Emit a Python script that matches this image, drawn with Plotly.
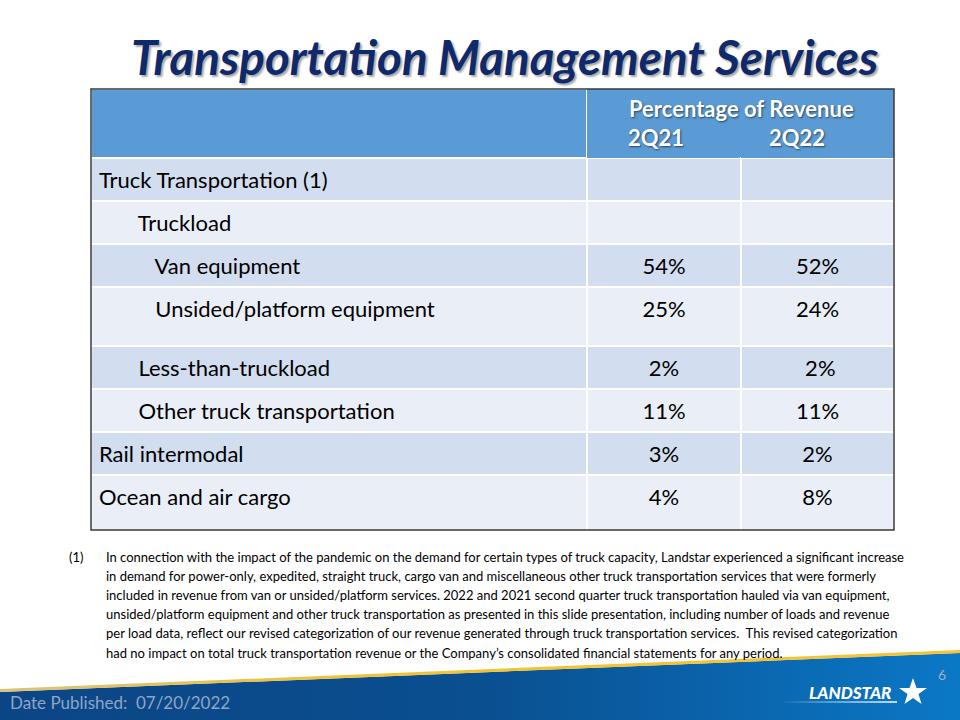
import base64
import plotly.graph_objects as go

# ---------------- data ----------------
title_text = "Transportation Management Services"
header_group = "Percentage of Revenue"
periods = ["2Q21", "2Q22"]
row_labels = [
    "Truck Transportation (1)",
    "Truckload",
    "Van equipment",
    "Unsided/platform equipment",
    "Less-than-truckload",
    "Other truck transportation",
    "Rail intermodal",
    "Ocean and air cargo",
]
row_levels = [0, 1, 2, 2, 1, 1, 0, 0]
pct_2q21 = ["", "", "54%", "25%", "2%", "11%", "3%", "4%"]
pct_2q22 = ["", "", "52%", "24%", " 2%", "11%", "2%", "8%"]
footnote_marker = "(1)"
footnote_lines = [
    "In connection with the impact of the pandemic on the demand for certain types of truck capacity, Landstar experienced a significant increase",
    "in demand for power-only, expedited, straight truck, cargo van and miscellaneous other truck transportation services that were formerly",
    "included in revenue from van or unsided/platform services. 2022 and 2021 second quarter truck transportation hauled via van equipment,",
    "unsided/platform equipment and other truck transportation as presented in this slide presentation, including number of loads and revenue",
    "per load data, reflect our revised categorization of our revenue generated through truck transportation services.  This revised categorization",
    "had no impact on total truck transportation revenue or the Company\u2019s consolidated financial statements for any period.",
]
date_text = "Date Published:  07/20/2022"
page_number = "6"
logo_text = "LANDSTAR"

# ---------------- styles ----------------
W, H = 960, 720
FONT = "Lato"
HEADER_BLUE = "#5B9BD5"
BAND_DARK = "#D2DEEF"
BAND_LIGHT = "#EAEFF7"
TITLE_COLOR = "#0E2A6C"

tbl_left, tbl_right = 91, 894
tbl_top, tbl_bottom = 89, 530
col_px = [496, 154, 153]
header_h = 69
row_h = 43
indent = {0: "", 1: "\u00a0" * 7, 2: "\u00a0" * 10}
# extra space below the text for the taller rows (layout only)
row_tail = {
    "Unsided/platform equipment": "<br><sup><span style='font-size:8px'>\u00a0</span></sup>",
    "Ocean and air cargo": "<br><sup><span style='font-size:1px'>\u00a0</span></sup>",
}


def px(x):
    return x / W


def py(y):
    return 1 - y / H


def cell(t):
    return (t + "<br>") if t else t


labels = [indent[lv] + t + row_tail.get(t, "<br>") for t, lv in zip(row_labels, row_levels)]
col_a = [cell(v) for v in pct_2q21]
col_b = [cell(v) for v in pct_2q22]

fills = [BAND_DARK if i % 2 == 0 else BAND_LIGHT for i in range(len(row_labels))]

fig = go.Figure()
fig.add_trace(
    go.Table(
        domain=dict(x=[px(tbl_left), px(tbl_right)], y=[py(tbl_bottom), py(tbl_top)]),
        columnwidth=col_px,
        header=dict(
            values=[" ", " ", " "],
            fill=dict(color=HEADER_BLUE),
            line=dict(color=["white", HEADER_BLUE, HEADER_BLUE], width=[2, 0, 0]),
            height=header_h,
            font=dict(family=FONT, size=12, color=HEADER_BLUE),
        ),
        cells=dict(
            values=[labels, col_a, col_b],
            align=["left", "center", "center"],
            fill=dict(color=[fills, fills, fills]),
            line=dict(color="white", width=2),
            font=dict(family=FONT, size=22, color="#000000"),
            height=row_h,
        ),
    )
)

# footer graphic (gradient band, gold swoosh, star)
footer_svg = """<svg xmlns='http://www.w3.org/2000/svg' width='960' height='80' viewBox='0 0 960 80' preserveAspectRatio='none'>
<defs>
<linearGradient id='g' x1='0' y1='0' x2='1' y2='0'>
<stop offset='0' stop-color='#0C4585'/><stop offset='0.5' stop-color='#0A4F90'/><stop offset='1' stop-color='#0B78C6'/>
</linearGradient>
<linearGradient id='s' x1='0' y1='0' x2='1' y2='0'>
<stop offset='0' stop-color='#D9C27A'/><stop offset='0.4' stop-color='#F2C232'/><stop offset='1' stop-color='#F6C431'/>
</linearGradient>
</defs>
<path d='M0,52 L960,13 L960,80 L0,80 Z' fill='url(#g)'/>
<path d='M0,50.5 L960,11.5' stroke='url(#s)' stroke-width='3' fill='none'/>
<path d='M778,62 L897,61.2 L897,62.8 Z' fill='white'/>
<polygon points='913,38 916.5,48 927,48 918.5,54 921.5,64 913,58 904.5,64 907.5,54 899,48 909.5,48' fill='white'/>
</svg>"""
src = "data:image/svg+xml;base64," + base64.b64encode(footer_svg.encode()).decode()

annotations = []
# title
annotations.append(dict(
    text=f"<b><i>{title_text}</i></b>", x=px(505), y=py(57), xref="paper", yref="paper",
    showarrow=False, xanchor="center", yanchor="middle",
    font=dict(family=FONT, size=47.6, color=TITLE_COLOR, shadow="2px 2px 2px rgba(0,0,0,0.35)"),
))
# header texts
hdr_font = dict(family=FONT, size=22, color="white", shadow="1px 1px 2px rgba(0,0,0,0.55)")
annotations.append(dict(text=f"<b>{header_group}</b>", x=px(741), y=py(108), xref="paper", yref="paper",
                        showarrow=False, xanchor="center", yanchor="middle", font=hdr_font))
for p, cx in zip(periods, [656, 797]):
    annotations.append(dict(text=f"<b>{p}</b>", x=px(cx), y=py(137), xref="paper", yref="paper",
                            showarrow=False, xanchor="center", yanchor="middle", font=hdr_font))
# footnote
fn_font = dict(family=FONT, size=13, color="#000000")
annotations.append(dict(text=footnote_marker, x=px(67), y=py(557), xref="paper", yref="paper",
                        showarrow=False, xanchor="left", yanchor="middle", font=fn_font))
for i, line in enumerate(footnote_lines):
    annotations.append(dict(text=line, x=px(104), y=py(557 + i * 19.1), xref="paper", yref="paper",
                            showarrow=False, xanchor="left", yanchor="middle", font=fn_font))
# footer texts
annotations.append(dict(text=date_text, x=px(8), y=py(702), xref="paper", yref="paper",
                        showarrow=False, xanchor="left", yanchor="middle",
                        font=dict(family=FONT, size=17, color="#8EA6C6")))
annotations.append(dict(text=page_number, x=px(942), y=py(674), xref="paper", yref="paper",
                        showarrow=False, xanchor="center", yanchor="middle",
                        font=dict(family=FONT, size=14, color="#9FB0C4")))
annotations.append(dict(text=logo_text, x=px(850), y=py(692), xref="paper", yref="paper",
                        showarrow=False, xanchor="center", yanchor="middle",
                        font=dict(family=FONT, size=17, color="white", weight=900, style="italic")))

fig.update_layout(
    width=W, height=H,
    margin=dict(l=0, r=0, t=0, b=0),
    paper_bgcolor="white",
    plot_bgcolor="white",
    showlegend=False,
    annotations=annotations,
    images=[dict(source=src, xref="paper", yref="paper", x=0, y=80 / H, sizex=1, sizey=80 / H,
                 xanchor="left", yanchor="top", sizing="stretch", layer="below")],
    shapes=[dict(type="rect", xref="paper", yref="paper",
                 x0=px(tbl_left), x1=px(tbl_right), y0=py(tbl_bottom), y1=py(tbl_top),
                 line=dict(color="#3A3A3A", width=1.5), fillcolor="rgba(0,0,0,0)", layer="above")],
)

fig.write_html(
    "out.html",
    config={"displayModeBar": False},
    post_script="document.body.style.margin='0';document.body.style.overflow='hidden';",
)
